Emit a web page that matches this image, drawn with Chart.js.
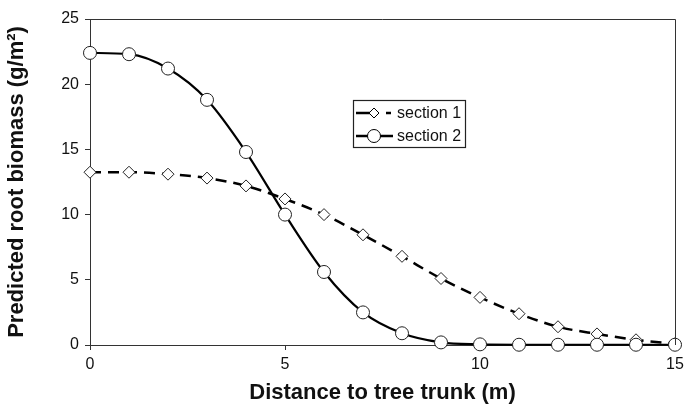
<!DOCTYPE html>
<html><head><meta charset="utf-8">
<script src="https://cdn.jsdelivr.net/npm/chart.js@4/dist/chart.umd.min.js"></script>
<style>html,body{margin:0;padding:0;background:#fff}#wrap{width:685px;height:410px;position:relative}</style>
</head><body><div id="wrap"><canvas id="c" width="685" height="410"></canvas></div>
<script>
const distances = [0,1,2,3,4,5,6,7,8,9,10,11,12,13,14,15];
const section1 = [13.25,13.25,13.1,12.8,12.2,11.2,10.0,8.45,6.8,5.1,3.65,2.4,1.4,0.85,0.4,0.1];
const section2 = [22.4,22.3,21.2,18.8,14.8,10.0,5.6,2.5,0.9,0.2,0.05,0.02,0.02,0.02,0.02,0.02];
const seriesLabels = ["section 1","section 2"];
const xTicks = [0,5,10,15];
const yTicks = [0,5,10,15,20,25];

const FONT = "'Liberation Sans', Arial, sans-serif";

const framePlugin = {
  id:'frame',
  afterDatasetsDraw(chart){
    const {ctx, chartArea:a} = chart;
    ctx.save();
    ctx.strokeStyle='#333'; ctx.lineWidth=1;
    ctx.beginPath();
    ctx.moveTo(a.left, a.top+0.5); ctx.lineTo(a.right+0.5, a.top+0.5); ctx.lineTo(a.right+0.5, a.bottom);
    ctx.stroke();
    // legend
    const lx = a.left + 263, ly = a.top + 81, lw = 112, lh = 47;
    ctx.fillStyle='#fff'; ctx.fillRect(lx,ly,lw,lh);
    ctx.strokeStyle='#222'; ctx.lineWidth=1.2; ctx.strokeRect(lx+0.5,ly+0.5,lw,lh);
    chart.data.datasets.forEach((ds,i)=>{
      const yy = ly + 13 + i*23;
      ctx.strokeStyle='#000'; ctx.lineWidth=2.5;
      ctx.beginPath();
      if(i===0){ ctx.moveTo(lx+3,yy); ctx.lineTo(lx+20,yy); ctx.moveTo(lx+33,yy); ctx.lineTo(lx+38,yy);}
      else { ctx.moveTo(lx+3,yy); ctx.lineTo(lx+40,yy); }
      ctx.stroke();
      ctx.fillStyle='#fff'; ctx.strokeStyle='#000'; ctx.lineWidth=1;
      const mx = lx+21;
      ctx.beginPath();
      if(i===0){ const r=5; ctx.moveTo(mx,yy-r); ctx.lineTo(mx+r,yy); ctx.lineTo(mx,yy+r); ctx.lineTo(mx-r,yy); ctx.closePath(); }
      else { ctx.arc(mx,yy,6.5,0,Math.PI*2); }
      ctx.fill(); ctx.stroke();
      ctx.fillStyle='#111'; ctx.font='16px '+FONT; ctx.textBaseline='middle'; ctx.textAlign='left';
      ctx.fillText(ds.label, lx+44, yy+1);
    });
    ctx.restore();
  }
};

new Chart(document.getElementById('c'), {
  type:'line',
  data:{
    datasets:[
      {label:seriesLabels[0], data:distances.map((x,i)=>({x, y:section1[i]})),
       borderColor:'#000', borderWidth:2.5, borderDash:[11,7], backgroundColor:'#fff',
       pointStyle:'rectRot', pointRadius:6, pointBorderWidth:1, pointBorderColor:'#222', pointBackgroundColor:'#fff',
       cubicInterpolationMode:'monotone', fill:false, order:2, clip:false},
      {label:seriesLabels[1], data:distances.map((x,i)=>({x, y:section2[i]})),
       borderColor:'#000', borderWidth:2.2, backgroundColor:'#fff',
       pointStyle:'circle', pointRadius:6.5, pointBorderWidth:1, pointBorderColor:'#222', pointBackgroundColor:'#fff',
       cubicInterpolationMode:'monotone', fill:false, order:1, clip:false}
    ]
  },
  options:{
    responsive:false, animation:false,
    layout:{padding:{top:19,right:10,left:0,bottom:0}},
    plugins:{legend:{display:false}, tooltip:{enabled:false}},
    scales:{
      x:{type:'linear', min:0, max:15,
        afterBuildTicks(s){ s.ticks = xTicks.map(v=>({value:v})); },
        afterFit(s){ s.height = 65; s.paddingLeft = 0; s.paddingRight = 0; },
        grid:{display:true, drawOnChartArea:false, drawTicks:true, tickLength:5, tickColor:'#333'},
        border:{display:true, color:'#333', width:1},
        ticks:{color:'#111', font:{family:FONT, size:16}, padding:5, maxRotation:0},
        title:{display:true, text:'Distance to tree trunk (m)', color:'#111', font:{family:FONT, size:22, weight:'bold'}, padding:{top:4}}
      },
      y:{min:0, max:25,
        afterBuildTicks(s){ s.ticks = yTicks.map(v=>({value:v})); },
        afterFit(s){ s.width = 90; s.paddingTop = 0; s.paddingBottom = 0; },
        grid:{display:true, drawOnChartArea:false, drawTicks:true, tickLength:5, tickColor:'#333'},
        border:{display:true, color:'#333', width:1},
        ticks:{color:'#111', font:{family:FONT, size:16}, padding:6},
        title:{display:true, text:'Predicted root biomass (g/m²)', color:'#111', font:{family:FONT, size:22, weight:'bold'}, padding:{bottom:4}}
      }
    }
  },
  plugins:[framePlugin]
});
</script></body></html>
